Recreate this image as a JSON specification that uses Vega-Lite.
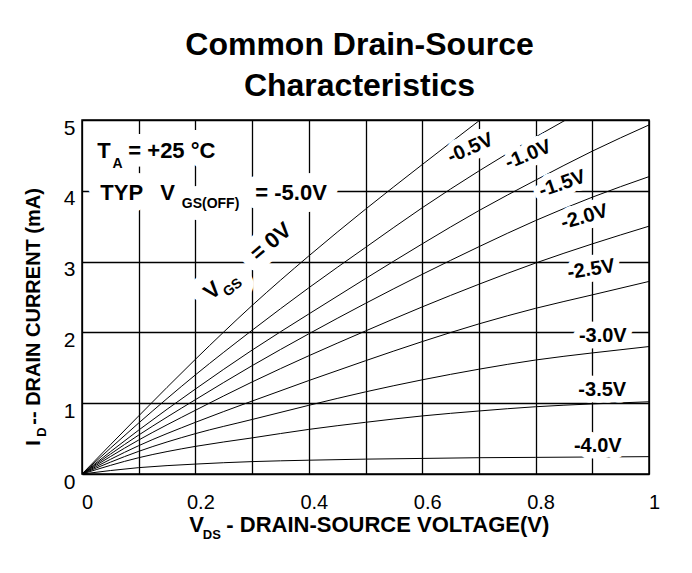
{
  "$schema": "https://vega.github.io/schema/vega-lite/v6.json",
  "width": 567,
  "height": 354,
  "autosize": {"type": "none"},
  "padding": {"left": 82, "top": 120, "right": 43, "bottom": 99},
  "background": "white",
  "config": {
    "font": "Liberation Sans",
    "view": {"stroke": "black", "strokeWidth": 1.5},
    "axis": {"labelFont": "Liberation Sans", "labelColor": "black"}
  },
  "title": {
    "text": ["Common Drain-Source", "Characteristics"],
    "font": "Liberation Sans",
    "fontSize": 32,
    "fontWeight": "bold",
    "color": "black",
    "anchor": "middle",
    "lineHeight": 41,
    "offset": 14,
    "dx": -6
  },
  "datasets": {
    "curves": [
      {"g": "0", "v": 0, "i": 0}, {"g": "0", "v": 0.1, "i": 0.82}, {"g": "0", "v": 0.2, "i": 1.62}, {"g": "0", "v": 0.3, "i": 2.38}, {"g": "0", "v": 0.4, "i": 3.08}, {"g": "0", "v": 0.5, "i": 3.74}, {"g": "0", "v": 0.6, "i": 4.37}, {"g": "0", "v": 0.702, "i": 5.0},
      {"g": "-0.5", "v": 0, "i": 0}, {"g": "-0.5", "v": 0.1, "i": 0.72}, {"g": "-0.5", "v": 0.2, "i": 1.40}, {"g": "-0.5", "v": 0.3, "i": 2.03}, {"g": "-0.5", "v": 0.4, "i": 2.63}, {"g": "-0.5", "v": 0.5, "i": 3.20}, {"g": "-0.5", "v": 0.6, "i": 3.76}, {"g": "-0.5", "v": 0.7, "i": 4.28}, {"g": "-0.5", "v": 0.8, "i": 4.76}, {"g": "-0.5", "v": 0.853, "i": 5.0},
      {"g": "-1.0", "v": 0, "i": 0}, {"g": "-1.0", "v": 0.1, "i": 0.62}, {"g": "-1.0", "v": 0.2, "i": 1.20}, {"g": "-1.0", "v": 0.3, "i": 1.75}, {"g": "-1.0", "v": 0.4, "i": 2.26}, {"g": "-1.0", "v": 0.5, "i": 2.76}, {"g": "-1.0", "v": 0.6, "i": 3.25}, {"g": "-1.0", "v": 0.7, "i": 3.72}, {"g": "-1.0", "v": 0.8, "i": 4.15}, {"g": "-1.0", "v": 0.9, "i": 4.56}, {"g": "-1.0", "v": 1.0, "i": 4.93},
      {"g": "-1.5", "v": 0, "i": 0}, {"g": "-1.5", "v": 0.1, "i": 0.55}, {"g": "-1.5", "v": 0.2, "i": 1.05}, {"g": "-1.5", "v": 0.3, "i": 1.53}, {"g": "-1.5", "v": 0.4, "i": 1.98}, {"g": "-1.5", "v": 0.5, "i": 2.41}, {"g": "-1.5", "v": 0.6, "i": 2.82}, {"g": "-1.5", "v": 0.7, "i": 3.21}, {"g": "-1.5", "v": 0.8, "i": 3.58}, {"g": "-1.5", "v": 0.9, "i": 3.91}, {"g": "-1.5", "v": 1.0, "i": 4.2},
      {"g": "-2.0", "v": 0, "i": 0}, {"g": "-2.0", "v": 0.1, "i": 0.48}, {"g": "-2.0", "v": 0.2, "i": 0.90}, {"g": "-2.0", "v": 0.3, "i": 1.30}, {"g": "-2.0", "v": 0.4, "i": 1.67}, {"g": "-2.0", "v": 0.5, "i": 2.02}, {"g": "-2.0", "v": 0.6, "i": 2.36}, {"g": "-2.0", "v": 0.7, "i": 2.68}, {"g": "-2.0", "v": 0.8, "i": 2.98}, {"g": "-2.0", "v": 0.9, "i": 3.25}, {"g": "-2.0", "v": 1.0, "i": 3.5},
      {"g": "-2.5", "v": 0, "i": 0}, {"g": "-2.5", "v": 0.1, "i": 0.40}, {"g": "-2.5", "v": 0.2, "i": 0.73}, {"g": "-2.5", "v": 0.3, "i": 1.03}, {"g": "-2.5", "v": 0.4, "i": 1.32}, {"g": "-2.5", "v": 0.5, "i": 1.60}, {"g": "-2.5", "v": 0.6, "i": 1.87}, {"g": "-2.5", "v": 0.7, "i": 2.12}, {"g": "-2.5", "v": 0.8, "i": 2.34}, {"g": "-2.5", "v": 0.9, "i": 2.53}, {"g": "-2.5", "v": 1.0, "i": 2.72},
      {"g": "-3.0", "v": 0, "i": 0}, {"g": "-3.0", "v": 0.1, "i": 0.32}, {"g": "-3.0", "v": 0.2, "i": 0.57}, {"g": "-3.0", "v": 0.3, "i": 0.77}, {"g": "-3.0", "v": 0.4, "i": 0.97}, {"g": "-3.0", "v": 0.5, "i": 1.16}, {"g": "-3.0", "v": 0.6, "i": 1.33}, {"g": "-3.0", "v": 0.7, "i": 1.48}, {"g": "-3.0", "v": 0.8, "i": 1.61}, {"g": "-3.0", "v": 0.9, "i": 1.71}, {"g": "-3.0", "v": 1.0, "i": 1.80},
      {"g": "-3.5", "v": 0, "i": 0}, {"g": "-3.5", "v": 0.1, "i": 0.23}, {"g": "-3.5", "v": 0.2, "i": 0.39}, {"g": "-3.5", "v": 0.3, "i": 0.51}, {"g": "-3.5", "v": 0.4, "i": 0.63}, {"g": "-3.5", "v": 0.5, "i": 0.73}, {"g": "-3.5", "v": 0.6, "i": 0.82}, {"g": "-3.5", "v": 0.7, "i": 0.89}, {"g": "-3.5", "v": 0.8, "i": 0.95}, {"g": "-3.5", "v": 0.9, "i": 0.99}, {"g": "-3.5", "v": 1.0, "i": 1.02},
      {"g": "-4.0", "v": 0, "i": 0}, {"g": "-4.0", "v": 0.1, "i": 0.09}, {"g": "-4.0", "v": 0.2, "i": 0.14}, {"g": "-4.0", "v": 0.3, "i": 0.175}, {"g": "-4.0", "v": 0.4, "i": 0.195}, {"g": "-4.0", "v": 0.5, "i": 0.21}, {"g": "-4.0", "v": 0.6, "i": 0.22}, {"g": "-4.0", "v": 0.7, "i": 0.23}, {"g": "-4.0", "v": 0.8, "i": 0.235}, {"g": "-4.0", "v": 0.9, "i": 0.24}, {"g": "-4.0", "v": 1.0, "i": 0.245}
    ],
    "curveLabels": [
      {"label": "-0.5V", "v": 0.685, "i": 4.6},
      {"label": "-1.0V", "v": 0.787, "i": 4.51},
      {"label": "-1.5V", "v": 0.847, "i": 4.1},
      {"label": "-2.0V", "v": 0.886, "i": 3.63},
      {"label": "-2.5V", "v": 0.898, "i": 2.89},
      {"label": "-3.0V", "v": 0.9185, "i": 1.953},
      {"label": "-3.5V", "v": 0.9176, "i": 1.19},
      {"label": "-4.0V", "v": 0.9097, "i": 0.40}
    ],
    "notes": [
      {"role": "big", "text": "T", "v": 0.027, "i": 4.463},
      {"role": "sub", "text": "A", "v": 0.0536, "i": 4.322},
      {"role": "big", "text": "= +25 °C", "v": 0.0817, "i": 4.463},
      {"role": "big", "text": "TYP", "v": 0.0323, "i": 3.874},
      {"role": "big", "text": "V", "v": 0.138, "i": 3.874},
      {"role": "sub", "text": "GS(OFF)", "v": 0.176, "i": 3.757},
      {"role": "big", "text": "= -5.0V", "v": 0.3056, "i": 3.874},
      {"role": "rbig", "text": "V", "v": 0.228, "i": 2.448},
      {"role": "rsub", "text": "GS", "v": 0.257, "i": 2.496},
      {"role": "rbig", "text": "= 0V", "v": 0.31, "i": 2.997},
      {"role": "xbig", "text": "V", "v": 0.1892, "i": -0.815},
      {"role": "xsub", "text": "DS", "v": 0.2131, "i": -0.92},
      {"role": "xbig", "text": "- DRAIN-SOURCE VOLTAGE(V)", "v": 0.2545, "i": -0.815},
      {"role": "ybig", "text": "I", "v": -0.0735, "i": 0.40},
      {"role": "ysub", "text": "D", "v": -0.063, "i": 0.527},
      {"role": "ybig", "text": "-- DRAIN CURRENT (mA)", "v": -0.0735, "i": 0.696}
    ]
  },
  "layer": [
    {
      "data": {"name": "curves"},
      "mark": {"type": "line", "color": "black", "strokeWidth": 1, "interpolate": "monotone", "clip": true},
      "encoding": {
        "x": {
          "field": "v", "type": "quantitative",
          "scale": {"domain": [0, 1], "nice": false},
          "axis": {
            "values": [0, 0.1, 0.2, 0.3, 0.4, 0.5, 0.6, 0.7, 0.8, 0.9, 1],
            "labelExpr": "round(datum.value*10) % 2 == 0 ? format(datum.value, '~g') : ''",
            "grid": true, "gridColor": "black", "gridWidth": 1.3, "gridOpacity": 1,
            "ticks": false, "domain": false,
            "labelFontSize": 20, "labelPadding": 18, "labelOffset": 5, "labelFlush": false,
            "title": null
          }
        },
        "y": {
          "field": "i", "type": "quantitative",
          "scale": {"domain": [0, 5], "nice": false},
          "axis": {
            "values": [0, 0.5, 1, 1.5, 2, 2.5, 3, 3.5, 4, 4.5, 5],
            "labelExpr": "datum.value % 1 == 0 ? format(datum.value, 'd') : ''",
            "grid": true, "gridColor": "black", "gridWidth": 1.3, "gridOpacity": 1,
            "ticks": false, "domain": false,
            "labelFontSize": 21, "labelPadding": 7, "labelOffset": 8, "labelFlush": false,
            "title": null
          }
        },
        "detail": {"field": "g", "type": "nominal"}
      }
    },
    {
      "data": {"name": "curveLabels"},
      "mark": {"type": "text", "font": "Liberation Sans", "fontWeight": "bold", "fontSize": 20, "align": "center", "baseline": "middle", "fill": "white", "stroke": "white", "strokeWidth": 13, "strokeJoin": "round"},
      "encoding": {
        "x": {"field": "v", "type": "quantitative"},
        "y": {"field": "i", "type": "quantitative"},
        "text": {"field": "label"},
        "angle": {"condition": [
          {"test": "datum.label == '-0.5V'", "value": 336},
          {"test": "datum.label == '-1.0V'", "value": 338},
          {"test": "datum.label == '-1.5V'", "value": 341},
          {"test": "datum.label == '-2.0V'", "value": 344},
          {"test": "datum.label == '-2.5V'", "value": 351}
        ], "value": 0}
      }
    },
    {
      "data": {"name": "curveLabels"},
      "mark": {"type": "text", "font": "Liberation Sans", "fontWeight": "bold", "fontSize": 20, "align": "center", "baseline": "middle", "fill": "black"},
      "encoding": {
        "x": {"field": "v", "type": "quantitative"},
        "y": {"field": "i", "type": "quantitative"},
        "text": {"field": "label"},
        "angle": {"condition": [
          {"test": "datum.label == '-0.5V'", "value": 336},
          {"test": "datum.label == '-1.0V'", "value": 338},
          {"test": "datum.label == '-1.5V'", "value": 341},
          {"test": "datum.label == '-2.0V'", "value": 344},
          {"test": "datum.label == '-2.5V'", "value": 351}
        ], "value": 0}
      }
    },
    {
      "data": {"name": "notes"},
      "transform": [{"filter": "indexof(['big','sub','rbig','rsub'], datum.role) >= 0"}],
      "mark": {"type": "text", "font": "Liberation Sans", "fontWeight": "bold", "align": "left", "baseline": "alphabetic", "fill": "white", "stroke": "white", "strokeWidth": 24, "strokeJoin": "round"},
      "encoding": {
        "x": {"field": "v", "type": "quantitative"},
        "y": {"field": "i", "type": "quantitative"},
        "text": {"field": "text"},
        "size": {"condition": [
          {"test": "datum.role == 'sub' || datum.role == 'rsub'", "value": 14}
        ], "value": 22},
        "angle": {"condition": [
          {"test": "datum.role == 'rbig' || datum.role == 'rsub'", "value": 320}
        ], "value": 0}
      }
    },
    {
      "data": {"name": "notes"},
      "mark": {"type": "text", "font": "Liberation Sans", "fontWeight": "bold", "align": "left", "baseline": "alphabetic", "fill": "black"},
      "encoding": {
        "x": {"field": "v", "type": "quantitative"},
        "y": {"field": "i", "type": "quantitative"},
        "text": {"field": "text"},
        "size": {"condition": [
          {"test": "datum.role == 'sub' || datum.role == 'rsub'", "value": 14},
          {"test": "datum.role == 'xsub' || datum.role == 'ysub'", "value": 13},
          {"test": "datum.role == 'xbig'", "value": 22},
          {"test": "datum.role == 'ybig'", "value": 20}
        ], "value": 22},
        "angle": {"condition": [
          {"test": "datum.role == 'rbig' || datum.role == 'rsub'", "value": 320},
          {"test": "datum.role == 'ybig' || datum.role == 'ysub'", "value": 270}
        ], "value": 0}
      }
    }
  ]
}
